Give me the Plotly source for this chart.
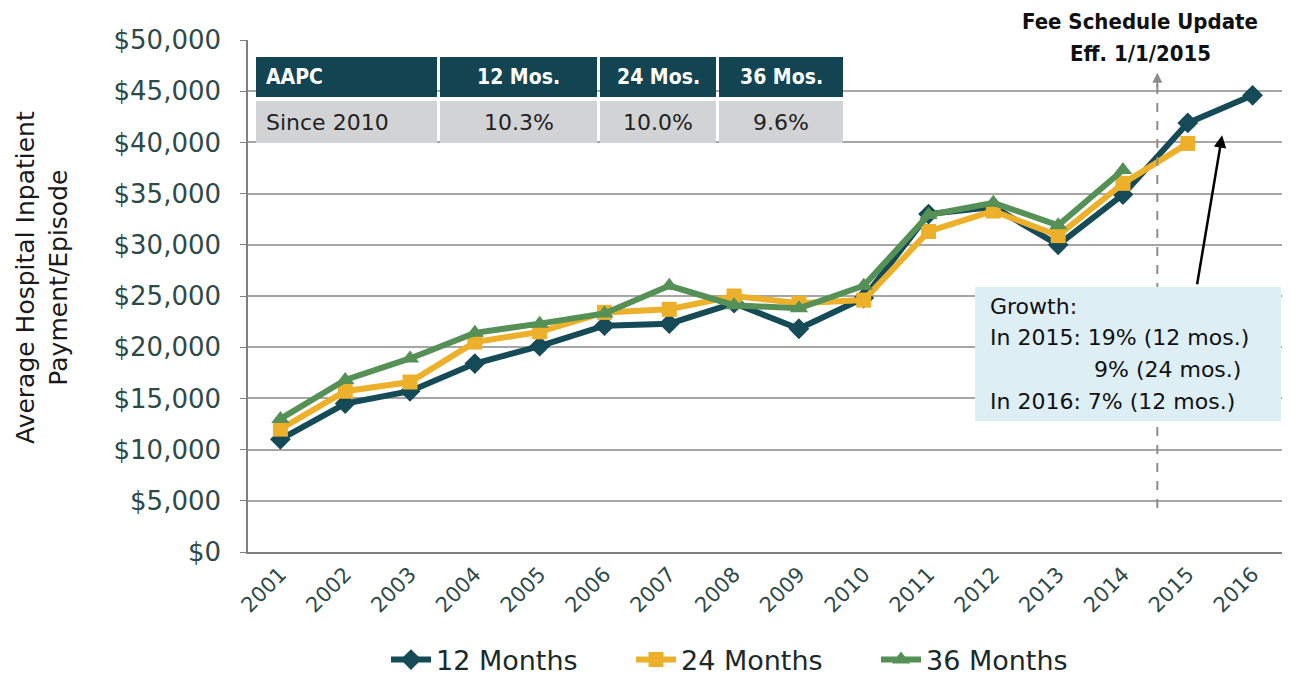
import plotly.graph_objects as go

# ---------------- data ----------------
years = ["2001", "2002", "2003", "2004", "2005", "2006", "2007", "2008",
         "2009", "2010", "2011", "2012", "2013", "2014", "2015", "2016"]
months12 = [11000, 14500, 15700, 18400, 20100, 22100, 22300, 24300,
            21800, 24800, 33000, 33700, 30000, 34900, 41900, 44600]
months24 = [12000, 15700, 16600, 20500, 21500, 23400, 23700, 25000,
            24300, 24600, 31300, 33300, 30900, 36000, 39900]
months36 = [13000, 16800, 18900, 21400, 22300, 23300, 26000, 24100,
            23800, 26000, 32900, 34100, 31900, 37300]
series_names = ["12 Months", "24 Months", "36 Months"]

aapc_header = ["AAPC", "12 Mos.", "24 Mos.", "36 Mos."]
aapc_row = ["Since 2010", "10.3%", "10.0%", "9.6%"]

growth_lines = ["Growth:", "In 2015: 19% (12 mos.)", "9% (24 mos.)", "In 2016: 7% (12 mos.)"]
fee_lines = ["Fee Schedule Update", "Eff. 1/1/2015"]
ytitle = "Average Hospital Inpatient<br>Payment/Episode"

# ---------------- layout geometry (screen pixels, page has 8px body margin) ----------------
OFF = 8
W, H = 1290 - OFF, 677 - OFF
PLOT_L, PLOT_R, PLOT_T, PLOT_B = 248, 1285, 40, 552   # screen coords of plot area
L = PLOT_L - OFF
T = PLOT_T - OFF
R = W - (PLOT_R - OFF)
B = H - (PLOT_B - OFF)
PW = PLOT_R - PLOT_L
PH = PLOT_B - PLOT_T


def px(x):
    return (x - PLOT_L) / PW


def py(y):
    return (PLOT_B - y) / PH


C12, C24, C36 = "#154A57", "#EDB02A", "#559157"
TICKC = "#2D4A48"
FONT = "DejaVu Sans"
COND = "DejaVu Sans Condensed, Liberation Sans Narrow, DejaVu Sans"

fig = go.Figure()
fig.add_trace(go.Scatter(x=years[:len(months12)], y=months12, name=series_names[0],
                         mode="lines+markers", line=dict(color=C12, width=6),
                         marker=dict(symbol="diamond", size=16, color=C12)))
fig.add_trace(go.Scatter(x=years[:len(months24)], y=months24, name=series_names[1],
                         mode="lines+markers", line=dict(color=C24, width=6),
                         marker=dict(symbol="square", size=15, color=C24)))
fig.add_trace(go.Scatter(x=years[:len(months36)], y=months36, name=series_names[2],
                         mode="lines+markers", line=dict(color=C36, width=6),
                         marker=dict(symbol="triangle-up", size=16, color=C36)))

shapes = []
annotations = []

# dashed vertical line with arrowhead (drawn first, box covers it)
xline = 13.53
shapes.append(dict(type="line", xref="x", yref="y", x0=xline, x1=xline, y0=4300, y1=45600,
                   line=dict(color="#8C8C8C", width=2, dash="dash"), layer="above"))
annotations.append(dict(xref="x", yref="y", axref="x", ayref="y", x=xline, y=46800,
                        ax=xline, ay=45300, showarrow=True, arrowhead=2, arrowsize=1,
                        arrowwidth=2, arrowcolor="#8C8C8C", text=""))

# AAPC table
col_edges = [(256, 437), (440, 597), (600, 716), (719, 843)]
row_edges = [(57, 97), (101, 143)]
for r, (rowvals, fill, fcol, bold) in enumerate([(aapc_header, "#134451", "white", True),
                                                  (aapc_row, "#D1D3D4", "#222222", False)]):
    y0, y1 = row_edges[r]
    for c, txt in enumerate(rowvals):
        x0, x1 = col_edges[c]
        shapes.append(dict(type="rect", xref="paper", yref="paper",
                           x0=px(x0), x1=px(x1), y0=py(y1), y1=py(y0),
                           fillcolor=fill, line=dict(width=0), layer="above"))
        if c == 0:
            ax, anchor = px(x0 + 8), "left"
        else:
            ax, anchor = px((x0 + x1) / 2), "center"
        annotations.append(dict(xref="paper", yref="paper", x=ax, y=py((y0 + y1) / 2),
                                xanchor=anchor, yanchor="middle", showarrow=False,
                                text=("<b>%s</b>" % txt) if bold else txt,
                                font=dict(family=COND if bold else FONT,
                                          size=21 if bold else 22, color=fcol)))

# Growth box
shapes.append(dict(type="rect", xref="paper", yref="paper",
                   x0=px(975), x1=px(1281), y0=py(421), y1=py(287),
                   fillcolor="#DDEEF4", line=dict(width=0), layer="above"))
gx = [988, 988, 1092, 988]
gy = [306, 337, 369, 401]
for txt, xx, yy in zip(growth_lines, gx, gy):
    annotations.append(dict(xref="paper", yref="paper", x=px(xx), y=py(yy),
                            xanchor="left", yanchor="middle", showarrow=False,
                            text=txt, font=dict(family=FONT, size=22, color="#111111")))

# Fee schedule text
for txt, yy in zip(fee_lines, [21, 53]):
    annotations.append(dict(xref="paper", yref="paper", x=px(1140), y=py(yy),
                            xanchor="center", yanchor="middle", showarrow=False,
                            text="<b>%s</b>" % txt,
                            font=dict(family=COND, size=22, color="#111111")))

# black arrow
annotations.append(dict(xref="x", yref="y", axref="x", ayref="y", x=14.53, y=40700,
                        ax=14.14, ay=26000, showarrow=True, arrowhead=2, arrowsize=1,
                        arrowwidth=2.5, arrowcolor="#000000", text=""))

# y title
annotations.append(dict(xref="paper", yref="paper", x=px(42), y=py(278), xanchor="center",
                        yanchor="middle", showarrow=False, textangle=-90, text=ytitle,
                        font=dict(family=FONT, size=25, color="#1A1A1A")))

fig.update_layout(
    width=W, height=H,
    margin=dict(l=L, r=R, t=T, b=B, autoexpand=False),
    paper_bgcolor="white", plot_bgcolor="white",
    shapes=shapes, annotations=annotations,
    showlegend=True,
    legend=dict(orientation="h", x=px(386), xanchor="left", y=py(660), yanchor="middle",
                font=dict(family=FONT, size=27, color="#1A2A2A"),
                itemwidth=40, entrywidth=190, entrywidthmode="pixels",
                bgcolor="rgba(0,0,0,0)"),
    xaxis=dict(type="category", range=[-0.5, 15.5], showgrid=False,
               showline=True, linecolor="#7F7F7F", linewidth=1.5, ticks="",
               tickangle=-45, tickfont=dict(family=FONT, size=21, color=TICKC),
               fixedrange=True),
    yaxis=dict(range=[0, 50000], dtick=5000, tickprefix="$", tickformat=",d",
               showgrid=True, gridcolor="#A6A6A6", gridwidth=1.5,
               showline=True, linecolor="#7F7F7F", linewidth=1.5,
               ticks="outside", ticklen=6, tickcolor="#7F7F7F", ticklabelstandoff=14,
               tickfont=dict(family=FONT, size=26, color=TICKC), zeroline=False,
               fixedrange=True),
)

fig.write_html("out.html")
